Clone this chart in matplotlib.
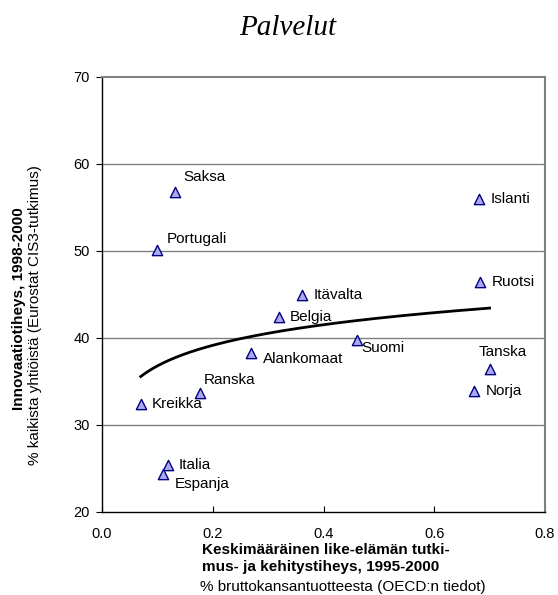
"""Palvelut: innovaatiotiheys vs. liike-elämän T&K-tiheys (hajontakuvio + log-trendi)."""
import numpy as np
import matplotlib
matplotlib.use("Agg")
import matplotlib.pyplot as plt

plt.rcParams["font.family"] = ["Liberation Sans", "DejaVu Sans"]

maat = ["Saksa", "Portugali", "Itävalta", "Belgia", "Alankomaat", "Suomi", "Ranska",
        "Kreikka", "Italia", "Espanja", "Islanti", "Ruotsi", "Tanska", "Norja"]
tk_tiheys = [0.132, 0.099, 0.362, 0.320, 0.269, 0.460, 0.177,
             0.070, 0.119, 0.111, 0.681, 0.683, 0.700, 0.672]
innovaatio = [56.8, 50.1, 44.9, 42.4, 38.3, 39.8, 33.7,
              32.4, 25.4, 24.4, 56.0, 46.4, 36.4, 33.9]
# nimiöiden siirrot pisteestä (px) ja tasaus
siirrot = {"Saksa": (8, 15, "left"), "Portugali": (10, 11, "left"),
           "Itävalta": (11, 0, "left"), "Belgia": (11, 0, "left"),
           "Alankomaat": (12, -6, "left"), "Suomi": (5, -8, "left"),
           "Ranska": (4, 13, "left"), "Kreikka": (11, 0, "left"),
           "Italia": (11, 0, "left"), "Espanja": (11, -10, "left"),
           "Islanti": (12, 0, "left"), "Ruotsi": (12, 0, "left"),
           "Tanska": (13, 17, "center"), "Norja": (12, 0, "left")}

HARMAA = "#808080"
FS = 11

fig = plt.figure(figsize=(5.58, 5.95), dpi=100)
ax = fig.add_axes([0.1828, 0.1395, 0.7939, 0.7311])

# Excelin logaritminen trendiviiva, sovitettu pisteisiin
x = np.array(tk_tiheys)
y = np.array(innovaatio)
b, a = np.polyfit(np.log(x), y, 1)
xt = np.linspace(x.min(), x.max(), 200)
ax.plot(xt, a + b * np.log(xt), color="black", lw=2.0, zorder=3)

ax.scatter(x, y, marker="^", s=55, facecolor="#aaaaf0", edgecolor="#000080",
           linewidth=1.0, zorder=4)
for maa, xi, yi in zip(maat, tk_tiheys, innovaatio):
    dx, dy, ha = siirrot[maa]
    ax.annotate(maa, (xi, yi), xytext=(dx * 0.72, dy * 0.72), textcoords="offset points",
                fontsize=FS, ha=ha, va="center", zorder=5)

ax.set_xlim(0, 0.8)
ax.set_ylim(20, 70)
ax.set_xticks([0.0, 0.2, 0.4, 0.6, 0.8])
ax.set_xticklabels(["0.0", "0.2", "0.4", "0.6", "0.8"])
ax.set_yticks([20, 30, 40, 50, 60, 70])
for v in [30, 40, 50, 60]:
    ax.axhline(v, color=HARMAA, lw=1.0, zorder=1)
ax.spines["top"].set_color(HARMAA)
ax.spines["right"].set_color(HARMAA)
for s in ["top", "right"]:
    ax.spines[s].set_linewidth(1.5)
ax.spines["left"].set_linewidth(1.0)
ax.spines["bottom"].set_linewidth(1.0)
ax.tick_params(axis="x", direction="in", length=4, pad=11, labelsize=10.5)
ax.tick_params(axis="y", direction="out", length=4, pad=5, labelsize=10.5)

fig.text(0.516, 0.953, "Palvelut", fontsize=21, style="italic", ha="center", va="center",
         family=["Liberation Serif", "DejaVu Serif"])

fig.text(0.362, 0.0613, "Keskimääräinen like-elämän tutki-\nmus- ja kehitystiheys, 1995-2000",
         fontsize=FS, weight="bold", ha="left", va="center", linespacing=1.2)
fig.text(0.615, 0.013, "% bruttokansantuotteesta (OECD:n tiedot)", fontsize=FS,
         ha="center", va="center")

fig.text(0.034, 0.481, "Innovaatiotiheys, 1998-2000", fontsize=FS, weight="bold",
         rotation=90, ha="center", va="center")
fig.text(0.063, 0.470, "% kaikista yhtiöistä (Eurostat CIS3-tutkimus)", fontsize=FS,
         rotation=90, ha="center", va="center")

fig.savefig("out.png", dpi=100)
